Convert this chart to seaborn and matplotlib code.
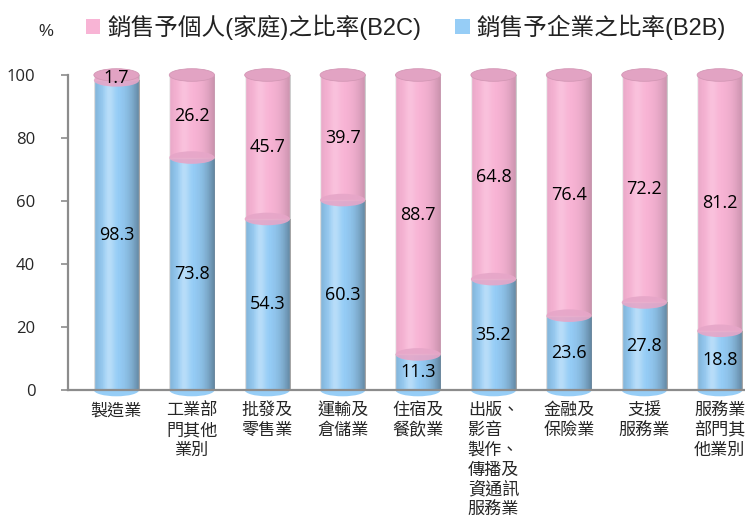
import matplotlib
matplotlib.use("Agg")
import matplotlib.pyplot as plt
import numpy as np
import pandas as pd
import seaborn as sns
from matplotlib.patches import Ellipse, Patch

# 資料
categories = ["製造業", "工業部\n門其他\n業別", "批發及\n零售業", "運輸及\n倉儲業", "住宿及\n餐飲業",
              "出版、\n影音　\n製作、\n傳播及\n資通訊\n服務業", "金融及\n保險業", "支援\n服務業",
              "服務業\n部門其\n他業別"]
b2c = [1.7, 26.2, 45.7, 39.7, 88.7, 64.8, 76.4, 72.2, 81.2]
b2b = [98.3, 73.8, 54.3, 60.3, 11.3, 35.2, 23.6, 27.8, 18.8]
yticks = [0, 20, 40, 60, 80, 100]
legend_labels = ["銷售予個人(家庭)之比率(B2C)", "銷售予企業之比率(B2B)"]

PINK = "#F8B4D5"
PINK_TOP = "#E2A3C3"
PINK_MID = "#E6A6C8"
BLUE = "#96CDF6"
AXIS = "#8C8C8C"

sns.set_style("white")
plt.rcParams['font.family'] = ['Open Sans', 'Noto Sans CJK TC', 'DejaVu Sans']

df = pd.DataFrame({"cat": categories, "b2c": b2c, "b2b": b2b})
df["total"] = df["b2b"] + df["b2c"]

fig = plt.figure(figsize=(7.45, 5.23), dpi=100)
ax = fig.add_axes([68 / 745, 1 - 390 / 523, 1 - 68 / 745, 315 / 523])

bar_w = 0.6
sns.barplot(data=df, x="cat", y="total", color=PINK, saturation=1, width=bar_w, ax=ax, zorder=2)
sns.barplot(data=df, x="cat", y="b2b", color=BLUE, saturation=1, width=bar_w, ax=ax, zorder=2)

# 圓柱陰影
t = np.linspace(0, 1, 80)
dark = 0.2 * np.clip(np.abs(t - 0.4) / 0.6, 0, 1) ** 2.5
light = 0.18 * np.exp(-((t - 0.33) / 0.12) ** 2)
dark_img = np.zeros((1, len(t), 4))
dark_img[..., 3] = dark
light_img = np.ones((1, len(t), 4))
light_img[..., 3] = light
for p in list(ax.patches):
    x0, y0, w, h = p.get_x(), p.get_y(), p.get_width(), p.get_height()
    for img in (dark_img, light_img):
        im = ax.imshow(img, extent=(x0, x0 + w, y0, y0 + h), aspect="auto",
                       interpolation="bilinear", zorder=2.5)
        im.set_clip_path(p)

eh = 4.0
for i, row in df.iterrows():
    ax.add_patch(Ellipse((i, 0), bar_w, eh, facecolor=BLUE, edgecolor="none",
                         zorder=1.5, clip_on=False))
    ax.add_patch(Ellipse((i, row["b2b"]), bar_w, eh, facecolor=PINK_MID, edgecolor="none",
                         alpha=0.9, zorder=3, clip_on=False))
    ax.add_patch(Ellipse((i, row["total"]), bar_w, eh, facecolor=PINK_TOP,
                         edgecolor="#D397B5", linewidth=0.6, zorder=3, clip_on=False))
    ax.text(i, row["b2b"] / 2, f"{row['b2b']:.1f}", ha="center", va="center",
            fontsize=13, color="black", zorder=5)
    ax.text(i, row["b2b"] + row["b2c"] / 2, f"{row['b2c']:.1f}", ha="center", va="center",
            fontsize=13, color="black", zorder=5)

ax.set_xlim(-0.643, 8.335)
ax.set_ylim(0, 100)
ax.set_yticks(yticks)
ax.set_xlabel("")
ax.set_ylabel("")
ax.tick_params(axis="y", length=5, width=1.2, color=AXIS, pad=18.5, labelsize=12, left=True)
ax.tick_params(axis="x", length=0, pad=8, labelsize=12.3)
for lbl in ax.get_xticklabels():
    lbl.set_family(['Noto Sans CJK TC'])
    lbl.set_linespacing(1.13)
    lbl.set_multialignment("center")

sns.despine(ax=ax)
for s in ("left", "bottom"):
    ax.spines[s].set_color(AXIS)
    ax.spines[s].set_linewidth(1.6)

fig.text(46 / 745, 1 - 32 / 523, "%", ha="center", va="center", fontsize=12,
         family=['Liberation Sans'])

handles = [Patch(facecolor=PINK, edgecolor="none"), Patch(facecolor=BLUE, edgecolor="none")]
fig.legend(handles, legend_labels, ncol=2, loc="center left",
           bbox_to_anchor=(86 / 745, 1 - 27 / 523), frameon=False,
           prop=dict(family=['Liberation Sans', 'Noto Sans CJK TC'], size=17),
           labelcolor="#222222", handlelength=0.6, handleheight=0.6,
           handletextpad=0.3, columnspacing=1.45, borderpad=0, borderaxespad=0)

fig.savefig("out.png", dpi=100)
